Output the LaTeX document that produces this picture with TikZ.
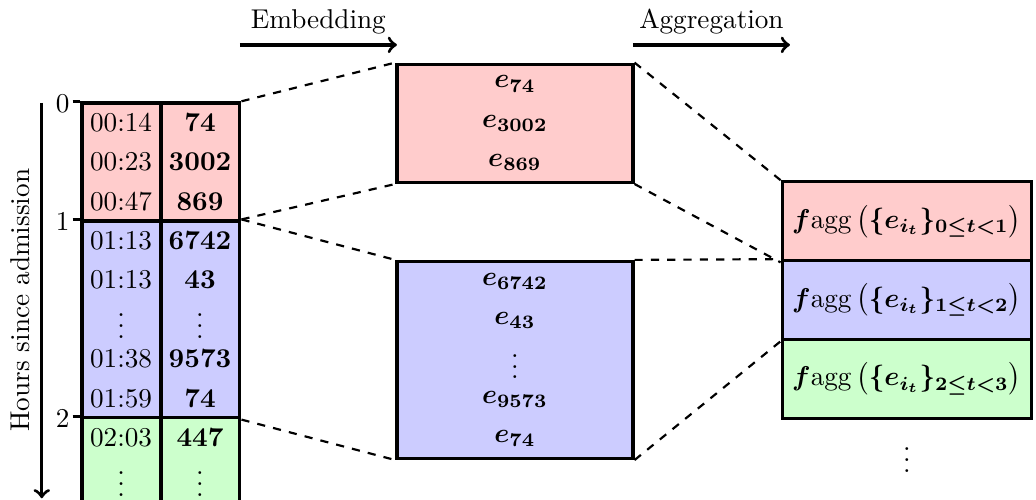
\documentclass[tikz,border=0pt]{standalone}
\usepackage{amsmath}
\usepackage{tikz}

\begin{document}
\begin{tikzpicture}
\tikzset{hourbox/.style = {draw, very thick, minimum width=2.04cm, inner sep=0pt}}
\tikzset{embbox/.style = {draw, very thick, minimum width=3.05cm}}
\tikzset{aggbox/.style = {draw, very thick, minimum width=3.22cm, minimum height=1.02cm}}
\tikzset{cell/.style = {inner sep=0pt}}
\tikzset{zoomline/.style = {dashed, thick}}
\tikzset{stage/.style = {->, very thick}}
\tikzset{ticklabel/.style = {anchor=east, inner sep=1pt}}
\useasboundingbox (0,0) rectangle (13.39,-6.46);
\clip (0,0) rectangle (13.39,-6.46);
% table of events
\node[hourbox, fill=red!20, minimum height=1.527cm](h0) at (2.08,-2.0935) {};
\node[hourbox, fill=blue!20, minimum height=2.545cm](h1) at (2.08,-4.1295) {};
\node[hourbox, fill=green!20, minimum height=1.3cm](h2) at (2.08,-6.05) {};
\draw[very thick] (h0.north) -- (h2.south);
\node[cell](t1) at (1.565,-1.585) {00:14};
\node[cell](c1) at (2.585,-1.585) {\textbf{74}};
\node[cell](t2) at (1.565,-2.094) {00:23};
\node[cell](c2) at (2.585,-2.094) {\textbf{3002}};
\node[cell](t3) at (1.565,-2.603) {00:47};
\node[cell](c3) at (2.585,-2.603) {\textbf{869}};
\node[cell](t4) at (1.565,-3.112) {01:13};
\node[cell](c4) at (2.585,-3.112) {\textbf{6742}};
\node[cell](t5) at (1.565,-3.621) {01:13};
\node[cell](c5) at (2.585,-3.621) {\textbf{43}};
\node[cell](t6) at (1.565,-4.110) {$\vdots$};
\node[cell](c6) at (2.585,-4.110) {$\vdots$};
\node[cell](t7) at (1.565,-4.639) {01:38};
\node[cell](c7) at (2.585,-4.639) {\textbf{9573}};
\node[cell](t8) at (1.565,-5.148) {01:59};
\node[cell](c8) at (2.585,-5.148) {\textbf{74}};
\node[cell](t9) at (1.565,-5.657) {02:03};
\node[cell](c9) at (2.585,-5.657) {\textbf{447}};
\node[cell](t10) at (1.565,-6.146) {$\vdots$};
\node[cell](c10) at (2.585,-6.146) {$\vdots$};
% time axis
\node[ticklabel](y0) at (0.94,-1.34) {0};
\node[ticklabel](y1) at (0.94,-2.86) {1};
\node[ticklabel](y2) at (0.94,-5.41) {2};
\draw[very thick] (y0.east |- h0.north) -- (h0.north west);
\draw[very thick] (y1.east |- h1.north) -- (h1.north west);
\draw[very thick] (y2.east |- h2.north) -- (h2.north west);
\coordinate(hstart) at (0.54,-1.33);
\coordinate(hend) at (0.54,-6.44);
\draw[stage] (hstart) -- (hend);
\node[rotate=90](hlab) at (0.26,-3.88) {Hours since admission};
% embeddings
\node[embbox, fill=red!20, minimum height=1.527cm](emb0) at (6.655,-1.5935) {};
\node[embbox, fill=blue!20, minimum height=2.545cm](emb1) at (6.655,-4.6525) {};
\node[cell](e1) at (6.655,-1.085) {$\boldsymbol{e_{74}}$};
\node[cell](e2) at (6.655,-1.594) {$\boldsymbol{e_{3002}}$};
\node[cell](e3) at (6.655,-2.103) {$\boldsymbol{e_{869}}$};
\node[cell](e4) at (6.655,-3.635) {$\boldsymbol{e_{6742}}$};
\node[cell](e5) at (6.655,-4.144) {$\boldsymbol{e_{43}}$};
\node[cell](e6) at (6.655,-4.633) {$\vdots$};
\node[cell](e7) at (6.655,-5.162) {$\boldsymbol{e_{9573}}$};
\node[cell](e8) at (6.655,-5.671) {$\boldsymbol{e_{74}}$};
% aggregations
\node[aggbox, fill=red!20](agg0) at (11.72,-2.86) {$\boldsymbol{f}\mathrm{agg}\left(\boldsymbol{\{e_{i_t}\}_{0\le t<1}}\right)$};
\node[aggbox, fill=blue!20](agg1) at (11.72,-3.88) {$\boldsymbol{f}\mathrm{agg}\left(\boldsymbol{\{e_{i_t}\}_{1\le t<2}}\right)$};
\node[aggbox, fill=green!20](agg2) at (11.72,-4.90) {$\boldsymbol{f}\mathrm{agg}\left(\boldsymbol{\{e_{i_t}\}_{2\le t<3}}\right)$};
\node[cell](aggdots) at (11.72,-5.84) {$\vdots$};
% stage arrows
\coordinate(embs) at (3.10,-0.58);
\coordinate(embe) at (5.13,-0.58);
\coordinate(aggs) at (8.18,-0.58);
\coordinate(agge) at (10.21,-0.58);
\draw[stage] (embs) -- (embe) node[midway, above] {Embedding};
\draw[stage] (aggs) -- (agge) node[midway, above] {Aggregation};
% zoom lines
\draw[zoomline] (h0.north east) -- (emb0.north west);
\draw[zoomline] (h1.north east) -- (emb0.south west);
\draw[zoomline] (h1.north east) -- (emb1.north west);
\draw[zoomline] (h1.south east) -- (emb1.south west);
\draw[zoomline] (emb0.north east) -- (agg0.north west);
\draw[zoomline] (emb0.south east) -- (agg0.south west);
\draw[zoomline] (emb1.north east) -- (agg1.north west);
\draw[zoomline] (emb1.south east) -- (agg1.south west);
\end{tikzpicture}
\end{document}
